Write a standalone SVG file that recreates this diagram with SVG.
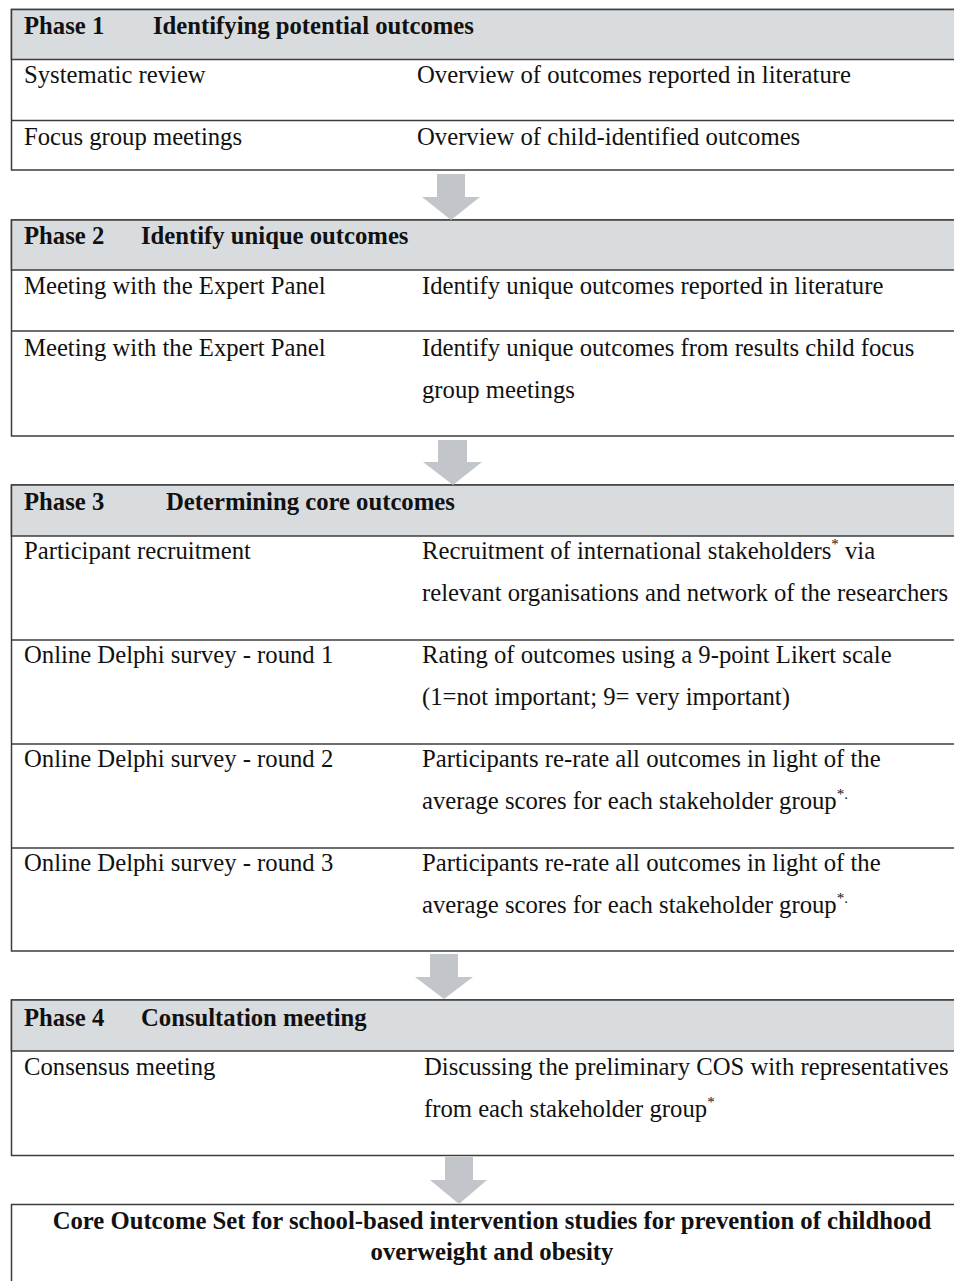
<svg xmlns="http://www.w3.org/2000/svg" width="954" height="1281" viewBox="0 0 954 1281">
<style>
.box{fill:#ffffff;stroke:#3c3c3c;stroke-width:1.5}
.hdr{fill:#d9dcdf;stroke:#3c3c3c;stroke-width:1.5}
.sep{stroke:#3c3c3c;stroke-width:1.5}
.t{font-family:"Liberation Serif","Times New Roman",serif;font-size:24.7px;fill:#111}
.b{font-family:"Liberation Serif","Times New Roman",serif;font-size:24.7px;font-weight:bold;fill:#111}
.sup{font-size:15px}
.arrow{fill:#c2c6ca}
</style>
<rect width="954" height="1281" fill="#ffffff"/>
<g id="phase1">
<rect class="box" x="11.5" y="9.5" width="960" height="160.5"/>
<rect class="hdr" x="11.5" y="9.5" width="960" height="50"/>
<line class="sep" x1="11.5" y1="120.5" x2="960" y2="120.5"/>
<text class="b" x="24" y="34">Phase 1</text>
<text class="b" x="153" y="34">Identifying potential outcomes</text>
<text class="t" x="24" y="83">Systematic review</text>
<text class="t" x="417" y="83">Overview of outcomes reported in literature</text>
<text class="t" x="24" y="145">Focus group meetings</text>
<text class="t" x="417" y="145">Overview of child-identified outcomes</text>
</g>
<g id="phase2">
<rect class="box" x="11.5" y="220" width="960" height="216"/>
<rect class="hdr" x="11.5" y="220" width="960" height="50"/>
<line class="sep" x1="11.5" y1="331" x2="960" y2="331"/>
<text class="b" x="24" y="244">Phase 2</text>
<text class="b" x="141" y="244">Identify unique outcomes</text>
<text class="t" x="24" y="294">Meeting with the Expert Panel</text>
<text class="t" x="422" y="294">Identify unique outcomes reported in literature</text>
<text class="t" x="24" y="356">Meeting with the Expert Panel</text>
<text class="t" x="422" y="356">Identify unique outcomes from results child focus</text>
<text class="t" x="422" y="398">group meetings</text>
</g>
<g id="phase3">
<rect class="box" x="11.5" y="485" width="960" height="466"/>
<rect class="hdr" x="11.5" y="485" width="960" height="51"/>
<line class="sep" x1="11.5" y1="640" x2="960" y2="640"/>
<line class="sep" x1="11.5" y1="744" x2="960" y2="744"/>
<line class="sep" x1="11.5" y1="848" x2="960" y2="848"/>
<text class="b" x="24" y="510">Phase 3</text>
<text class="b" x="166" y="510">Determining core outcomes</text>
<text class="t" x="24" y="559">Participant recruitment</text>
<text class="t" x="422" y="559">Recruitment of international stakeholders<tspan class="sup" dy="-10">*</tspan><tspan dy="10"> via</tspan></text>
<text class="t" x="422" y="601">relevant organisations and network of the researchers</text>
<text class="t" x="24" y="663">Online Delphi survey - round 1</text>
<text class="t" x="422" y="663">Rating of outcomes using a 9-point Likert scale</text>
<text class="t" x="422" y="705">(1=not important; 9= very important)</text>
<text class="t" x="24" y="767">Online Delphi survey - round 2</text>
<text class="t" x="422" y="767">Participants re-rate all outcomes in light of the</text>
<text class="t" x="422" y="809">average scores for each stakeholder group<tspan class="sup" dy="-10">*.</tspan></text>
<text class="t" x="24" y="871">Online Delphi survey - round 3</text>
<text class="t" x="422" y="871">Participants re-rate all outcomes in light of the</text>
<text class="t" x="422" y="913">average scores for each stakeholder group<tspan class="sup" dy="-10">*.</tspan></text>
</g>
<g id="phase4">
<rect class="box" x="11.5" y="1000" width="960" height="155.5"/>
<rect class="hdr" x="11.5" y="1000" width="960" height="51"/>
<text class="b" x="24" y="1026">Phase 4</text>
<text class="b" x="141" y="1026">Consultation meeting</text>
<text class="t" x="24" y="1075">Consensus meeting</text>
<text class="t" x="424" y="1075">Discussing the preliminary COS with representatives</text>
<text class="t" x="424" y="1117">from each stakeholder group<tspan class="sup" dy="-10">*</tspan></text>
</g>
<g id="core-outcome-set">
<rect class="box" x="11.5" y="1204.5" width="960" height="100"/>
<text class="b" x="492" y="1229" text-anchor="middle">Core Outcome Set for school-based intervention studies for prevention of childhood</text>
<text class="b" x="492" y="1260" text-anchor="middle">overweight and obesity</text>
</g>
<g id="connectors">
<polygon class="arrow" points="437,174 465,174 465,197 480,197 451,220 422,197 437,197"/>
<polygon class="arrow" points="438,440 467,440 467,462 482,462 453,485 423,462 438,462"/>
<polygon class="arrow" points="430,954 458,954 458,977 473,977 444,999 415,977 430,977"/>
<polygon class="arrow" points="445,1157 473,1157 473,1180 487,1180 459,1204 430,1180 445,1180"/>
</g>
</svg>
